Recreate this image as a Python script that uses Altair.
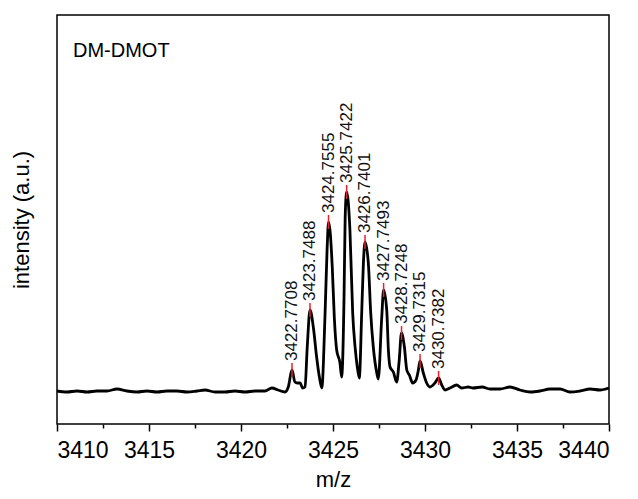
import altair as alt
import pandas as pd

mz = [3410.00, 3410.54, 3411.09, 3411.63, 3412.17, 3412.72, 3413.26, 3413.80, 3414.35, 3414.89,
      3415.43, 3415.98, 3416.52, 3417.07, 3417.61, 3418.04, 3418.59, 3419.13, 3419.67, 3420.22,
      3420.76, 3421.30, 3421.68, 3422.01, 3422.39, 3422.57, 3422.77, 3422.93, 3423.06, 3423.21,
      3423.35, 3423.48, 3423.60, 3423.75, 3423.93, 3424.11, 3424.26, 3424.39, 3424.57, 3424.68,
      3424.76, 3424.96, 3425.07, 3425.20, 3425.38, 3425.47, 3425.60, 3425.66, 3425.74, 3425.92,
      3426.07, 3426.20, 3426.32, 3426.43, 3426.56, 3426.65, 3426.74, 3426.92, 3427.05, 3427.19,
      3427.38, 3427.46, 3427.65, 3427.75, 3427.92, 3428.01, 3428.10, 3428.28, 3428.46, 3428.60,
      3428.72, 3428.88, 3429.01, 3429.15, 3429.33, 3429.51, 3429.64, 3429.73, 3429.91, 3430.09,
      3430.27, 3430.54, 3430.74, 3430.91, 3431.09, 3431.36, 3431.72, 3431.99, 3432.35, 3432.61,
      3433.10, 3433.53, 3434.08, 3434.62, 3435.16, 3435.71, 3436.25, 3436.79, 3437.34, 3437.88,
      3438.42, 3438.97, 3439.51, 3440.00]
intensity = [33, 32, 33, 32, 33, 33, 35, 33, 32, 33,
             32, 33, 33, 32, 33, 34, 32, 32, 33, 32,
             33, 33, 36, 34, 32, 37, 54, 42, 41, 41,
             36, 37, 77, 114, 97, 67, 47, 36, 111, 175,
             202, 157, 107, 74, 61, 47, 127, 205, 232, 194,
             111, 77, 57, 46, 111, 160, 182, 161, 111, 77,
             51, 45, 107, 134, 114, 74, 57, 52, 42, 64,
             91, 77, 54, 49, 41, 44, 54, 63, 51, 41,
             37, 41, 46, 39, 34, 36, 39, 36, 37, 36,
             37, 35, 35, 37, 34, 32, 33, 35, 35, 32,
             33, 35, 34, 36]

peak_mz = [3422.7708, 3423.7488, 3424.7555, 3425.7422, 3426.7401,
           3427.7493, 3428.7248, 3429.7315, 3430.7382]
peak_int = [54, 114, 202, 232, 182, 134, 91, 63, 46]
peak_labels = ["3422.7708", "3423.7488", "3424.7555", "3425.7422", "3426.7401",
               "3427.7493", "3428.7248", "3429.7315", "3430.7382"]

x_ticks = [3410, 3412.5, 3415, 3417.5, 3420, 3422.5, 3425, 3427.5,
           3430, 3432.5, 3435, 3437.5, 3440]

FONT = "Liberation Sans"

spec_df = pd.DataFrame({"mz": mz, "intensity": intensity})
peak_df = pd.DataFrame({"mz": peak_mz, "intensity": peak_int, "label": peak_labels})
peak_df["lo"] = peak_df["intensity"] - 7
peak_df["hi"] = peak_df["intensity"] + 7

xscale = alt.Scale(domain=[3410, 3440], nice=False, zero=False)
yscale = alt.Scale(domain=[0, 409], nice=False)

x_enc = alt.X(
    "mz:Q", scale=xscale, title="m/z",
    axis=alt.Axis(
        values=x_ticks, format="d",
        labelExpr="datum.value % 5 === 0 ? datum.label : ''",
        tickSize={"condition": {"test": "datum.value % 5 !== 0", "value": 4}, "value": 7},
        tickColor="black", tickWidth=1.5, domain=False, grid=False,
        labelFont=FONT, labelFontSize=23, labelColor="black", labelPadding=8,
        titleFont=FONT, titleFontSize=22, titleFontWeight="normal", titleColor="black",
        titlePadding=7,
    ),
)
y_enc = alt.Y(
    "intensity:Q", scale=yscale, title="intensity (a.u.)",
    axis=alt.Axis(
        labels=False, ticks=False, domain=False, grid=False,
        titleFont=FONT, titleFontSize=22, titleFontWeight="normal", titleColor="black",
        titlePadding=24,
    ),
)

line = alt.Chart(spec_df).mark_line(
    color="black", strokeWidth=2.8, interpolate="monotone", strokeJoin="round"
).encode(x=x_enc, y=y_enc)

ticks = alt.Chart(peak_df).mark_rule(color="#e8202a", strokeWidth=1.5).encode(
    x="mz:Q", y="lo:Q", y2="hi:Q"
)

labels = alt.Chart(peak_df).mark_text(
    angle=270, align="left", baseline="middle", dx=9,
    font=FONT, fontSize=17, color="#111111"
).encode(x="mz:Q", y="intensity:Q", text="label:N")

name = alt.Chart(pd.DataFrame({"t": ["DM-DMOT"]})).mark_text(
    align="left", baseline="middle", font=FONT, fontSize=20, color="black"
).encode(x=alt.value(16), y=alt.value(36), text="t:N")

chart = alt.layer(line, ticks, labels, name).properties(
    width=552, height=409,
    padding={"left": 49, "top": 7, "right": 21, "bottom": 67},
    autosize=alt.AutoSizeParams(type="none"),
).configure_view(stroke="black", strokeWidth=1.5)

chart.save("out.html", embed_options={"renderer": "svg", "actions": False})
